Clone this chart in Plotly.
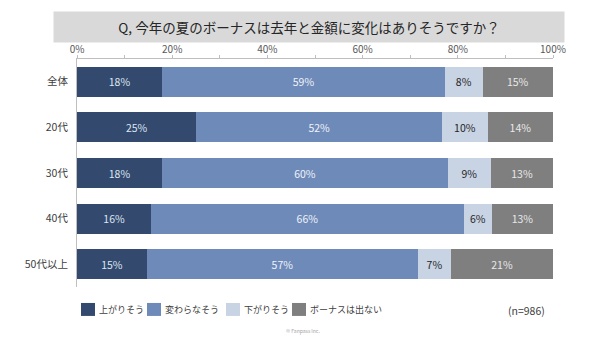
import plotly.graph_objects as go

categories = ["全体", "20代", "30代", "40代", "50代以上"]
series_names = ["上がりそう", "変わらなそう", "下がりそう", "ボーナスは出ない"]
up = [17.9, 25.1, 17.9, 15.6, 14.7]
same = [59.4, 51.6, 60.0, 65.6, 56.9]
down = [7.9, 9.6, 9.1, 6.0, 7.0]
none_ = [14.8, 13.7, 13.0, 12.8, 21.4]
series_values = [up, same, down, none_]
tick_vals = [0, 20, 40, 60, 80, 100]
tick_labels = ["0%", "20%", "40%", "60%", "80%", "100%"]
title_text = "Q, 今年の夏のボーナスは去年と金額に変化はありそうですか？"
n_text = "(n=986)"
credit_text = "© Fanpass Inc."

colors = ["#33496e", "#6e8ab8", "#c8d3e4", "#7f7f7f"]
text_colors = ["#dde6f3", "#eef3fa", "#262626", "#e8e8e8"]
FONT = "Noto Sans CJK JP, Noto Sans, sans-serif"

W, H = 600, 338
L, R, T, B = 77, 47, 58.5, 51
pw, ph = W - L - R, H - T - B

def px(x):
    return (x - L) / pw

def py(y):
    return (H - B - y) / ph

fig = go.Figure()
for name, vals, c, tc in zip(series_names, series_values, colors, text_colors):
    fig.add_trace(go.Bar(
        y=categories, x=vals, name=name, orientation="h",
        marker=dict(color=c, line=dict(width=0)),
        text=vals, texttemplate="%{x:.0f}%", textposition="inside",
        insidetextanchor="middle",
        textfont=dict(color=tc, size=10.5, family=FONT),
        showlegend=False, hoverinfo="skip",
    ))

shapes = []
annotations = []
# title box
annotations.append(dict(
    x=px(309), y=py(26), xref="paper", yref="paper", text=title_text,
    showarrow=False, xanchor="center", yanchor="middle",
    width=508, height=28, bgcolor="#d9d9d9",
    font=dict(size=13.5, color="#262626", family=FONT),
))
# manual legend
leg_x = [81, 147, 226, 292]
for x0, name, c in zip(leg_x, series_names, colors):
    shapes.append(dict(type="rect", xref="paper", yref="paper",
                       x0=px(x0), x1=px(x0 + 14), y0=py(316), y1=py(303),
                       fillcolor=c, line=dict(width=0)))
    annotations.append(dict(x=px(x0 + 16), y=py(309.5), xref="paper", yref="paper",
                            text=name, showarrow=False, xanchor="left", yanchor="middle",
                            font=dict(size=9, color="#404040", family=FONT)))
annotations.append(dict(x=px(526), y=py(311), xref="paper", yref="paper",
                        text=n_text, showarrow=False, xanchor="center", yanchor="middle",
                        font=dict(size=10.5, color="#404040", family=FONT)))
annotations.append(dict(x=px(303), y=py(331), xref="paper", yref="paper",
                        text=credit_text, showarrow=False, xanchor="center", yanchor="middle",
                        font=dict(size=5, color="#a0a0a0", family=FONT)))

fig.update_layout(
    width=W, height=H, barmode="stack", bargap=0.342,
    margin=dict(l=L, r=R, t=T, b=B, pad=0),
    paper_bgcolor="white", plot_bgcolor="white",
    font=dict(family=FONT),
    xaxis=dict(side="top", range=[0, 100], tickmode="array", tickvals=tick_vals,
               ticktext=tick_labels, ticklabelstandoff=-2,
               showgrid=False, zeroline=False, showline=True, linecolor="#bfbfbf",
               linewidth=1, ticks="outside", ticklen=3, tickcolor="#bfbfbf",
               minor=dict(dtick=10, ticks="outside", ticklen=3, tickcolor="#bfbfbf"),
               tickfont=dict(size=10, color="#595959", family=FONT)),
    yaxis=dict(autorange="reversed", showgrid=False, zeroline=False, showline=True,
               linecolor="#bfbfbf", linewidth=1, ticks="", ticklabelstandoff=6,
               tickfont=dict(size=10.5, color="#404040", family=FONT)),
    shapes=shapes, annotations=annotations,
)

fig.write_html("out.html")
